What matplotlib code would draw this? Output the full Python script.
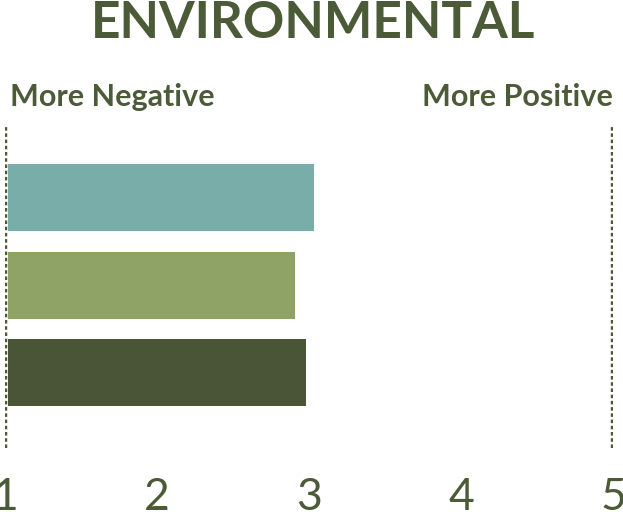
import matplotlib.pyplot as plt

# data
groups = ['Group A', 'Group B', 'Group C']
scores = [3.03, 2.91, 2.98]
bar_colors = ['#78ada9', '#8fa366', '#4a5437']
tick_vals = [1, 2, 3, 4, 5]
tick_labels = ['1', '2', '3', '4', '5']

text_color = '#4b5a37'
plt.rcParams['font.family'] = ['Lato', 'DejaVu Sans']

W, H = 623, 519
fig = plt.figure(figsize=(W / 100, H / 100), dpi=100)
# axes: x=1 at 5px, x=5 at 613px; y from 125px to 448px
ax = fig.add_axes([5 / W, 1 - 448 / H, 608 / W, 323 / H])

ypos = list(range(len(groups)))
bar_start = 1.02
ax.barh(ypos, [s - bar_start for s in scores], left=bar_start, height=0.766,
        color=bar_colors)

ax.axvline(1, color=text_color, lw=3.2, linestyle=(0, (0.8, 0.6)))
ax.axvline(5, color=text_color, lw=3.2, linestyle=(0, (0.8, 0.6)))

ax.set_xlim(1, 5)
ax.set_ylim(2.86, -0.83)
ax.set_xticks(tick_vals)
ax.set_xticklabels(tick_labels, fontsize=32, fontweight='normal',
                   color=text_color)
ax.tick_params(axis='x', length=0, pad=21)
ax.set_yticks([])
for s in ax.spines.values():
    s.set_visible(False)

fig.text(313 / W, 1 - 23 / H, 'ENVIRONMENTAL', ha='center', va='center',
         fontsize=37, fontweight='bold', color=text_color)
fig.text(10 / W, 1 - 97 / H, 'More Negative', ha='left', va='center',
         fontsize=22, fontweight='bold', color=text_color)
fig.text(613 / W, 1 - 97 / H, 'More Positive', ha='right', va='center',
         fontsize=22, fontweight='bold', color=text_color)

fig.savefig('out.png', dpi=100)
